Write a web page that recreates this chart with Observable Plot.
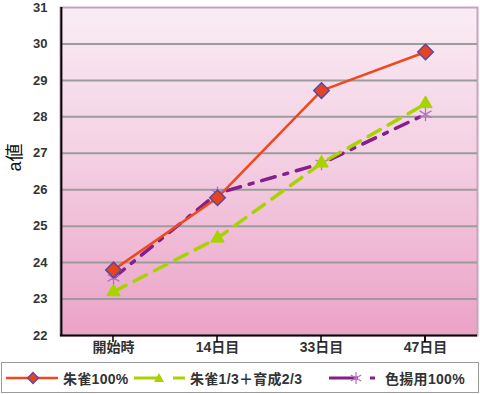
<!DOCTYPE html>
<html><head><meta charset="utf-8">
<script src="https://cdn.jsdelivr.net/npm/d3@7"></script>
<script src="https://cdn.jsdelivr.net/npm/@observablehq/plot@0.6"></script>
<style>
body{margin:0;background:#fff;font-family:"Liberation Sans","Noto Sans CJK JP",Arial,sans-serif;}
#wrap{position:relative;width:480px;height:394px;}
#legend{position:absolute;left:1px;top:362px;width:476px;height:29px;border:1px solid #9a9a9a;background:#fff;}
.item{position:absolute;top:0;height:29px;display:flex;align-items:center;font-size:14px;font-weight:bold;color:#333;white-space:nowrap;letter-spacing:0.3px;}
.item svg{display:block;}
</style></head><body>
<div id="wrap"><div id="chart"></div><div id="legend"></div></div>
<script>
const categories = ["開始時", "14日目", "33日目", "47日目"];
const seriesNames = ["朱雀100%", "朱雀1/3＋育成2/3", "色揚用100%"];
const suzaku100 = [23.8, 25.78, 28.72, 29.78];
const mixSeries = [23.2, 24.67, 26.73, 28.36];
const iroage100 = [23.58, 25.9, 26.72, 28.07];
const yTicks = [22, 23, 24, 25, 26, 27, 28, 29, 30, 31];

const colors = {line1: "#f0481c", fill1: "#e8431f", stroke1: "#5b4a9c",
  line2: "#a9d300", line3: "#861f8c", sym3: "#b76ec0"};

const toRows = (vals, s) => vals.map((v, i) => ({cat: categories[i], value: v, series: s}));
const d1 = toRows(suzaku100, seriesNames[0]);
const d2 = toRows(mixSeries, seriesNames[1]);
const d3r = toRows(iroage100, seriesNames[2]);

const W = 480, H = 360, ML = 60, MR = 3, MT = 7, MB = 25;
const step = (W - ML - MR) / categories.length;
const boundaries = categories.map((c, i) => ({cat: c, dx: -step / 2})).concat([{cat: categories[categories.length - 1], dx: step / 2}]);

const plot = Plot.plot({
  width: W, height: H, marginLeft: ML, marginRight: MR, marginTop: MT, marginBottom: MB,
  style: {fontFamily: '"Liberation Sans","Noto Sans CJK JP",Arial,sans-serif', fontSize: "13px", fontWeight: "bold", color: "#333", background: "transparent", overflow: "visible"},
  x: {type: "point", domain: categories, padding: 0.5, label: null, tickSize: 0, tickPadding: 7},
  y: {domain: [22, 31], ticks: yTicks, label: null, tickSize: 0, tickPadding: 13},
  marks: [
    Plot.frame({fill: "url(#bgGrad)", stroke: "#c8a3bd", strokeWidth: 2}),
    Plot.ruleY(yTicks.filter(t => t > 22 && t < 31), {stroke: "#9c9c9c", strokeWidth: 2}),
    Plot.ruleY([22], {stroke: "#000", strokeWidth: 2}),
    Plot.ruleX([boundaries[0]], {x: "cat", dx: -step / 2, y1: 22, y2: 31, stroke: "#000", strokeWidth: 2}),
    Plot.ruleX(boundaries, {x: "cat", dx: d => d.dx, y1: 22, y2: 22, insetBottom: -7, stroke: "#000", strokeWidth: 1.5}),
    Plot.line(d3r, {x: "cat", y: "value", stroke: colors.line3, strokeWidth: 3.5, strokeDasharray: "14,9,4,9"}),
    Plot.line(d2, {x: "cat", y: "value", stroke: colors.line2, strokeWidth: 3.5, strokeDasharray: "14,9"}),
    Plot.line(d1, {x: "cat", y: "value", stroke: colors.line1, strokeWidth: 2.5}),
    Plot.dot(d3r, {x: "cat", y: "value", symbol: "asterisk", r: 6.5, stroke: colors.sym3, strokeWidth: 1.3}),
    Plot.dot(d2, {x: "cat", y: "value", symbol: "triangle", r: 5, fill: colors.line2, stroke: colors.line2, strokeWidth: 1}),
    Plot.dot(d1, {x: "cat", y: "value", symbol: "diamond2", r: 7, fill: colors.fill1, stroke: colors.stroke1, strokeWidth: 1.5}),
    Plot.text(["a値"], {frameAnchor: "left", dx: -45, rotate: -90, fontSize: 18, fontWeight: "normal", fill: "#111"})
  ]
});

// larger x-axis labels
d3.select(plot).selectAll("[aria-label='x-axis tick label'] text, g[aria-label='x-axis tick label'] text").style("font-size", "14px");

const defs = d3.select(plot).insert("defs", ":first-child");
const g = defs.append("linearGradient").attr("id", "bgGrad").attr("x1", 0).attr("y1", 0).attr("x2", 0).attr("y2", 1);
g.append("stop").attr("offset", "0%").attr("stop-color", "#f9ecf4");
g.append("stop").attr("offset", "45%").attr("stop-color", "#f4d0e3");
g.append("stop").attr("offset", "100%").attr("stop-color", "#eba2c7");
document.getElementById("chart").appendChild(plot);

// Legend
const legend = document.getElementById("legend");
function addItem(left, svgInner, svgW, text) {
  const div = document.createElement("div");
  div.className = "item";
  div.style.left = left + "px";
  div.innerHTML = `<svg width="${svgW}" height="20" viewBox="0 0 ${svgW} 20">${svgInner}</svg><span style="margin-left:3px">${text}</span>`;
  legend.appendChild(div);
}
const diamond = (cx) => `<path d="M${cx},4.5L${cx+5.5},10L${cx},15.5L${cx-5.5},10Z" fill="${colors.fill1}" stroke="${colors.stroke1}" stroke-width="1.3"/>`;
addItem(3,
  `<line x1="1" y1="10" x2="53" y2="10" stroke="${colors.line1}" stroke-width="2.5"/>` + diamond(28), 55, seriesNames[0]);
addItem(131,
  `<line x1="1" y1="10" x2="28" y2="10" stroke="${colors.line2}" stroke-width="3"/>` +
  `<path d="M26,5L31,14L21,14Z" fill="${colors.line2}"/>` +
  `<line x1="40" y1="10" x2="52" y2="10" stroke="${colors.line2}" stroke-width="3"/>`, 54, seriesNames[1]);
addItem(326,
  `<line x1="1" y1="10" x2="30" y2="10" stroke="${colors.line3}" stroke-width="3"/>` +
  `<g stroke="${colors.sym3}" stroke-width="1.2"><line x1="28" y1="4" x2="28" y2="16"/><line x1="22.8" y1="7" x2="33.2" y2="13"/><line x1="22.8" y1="13" x2="33.2" y2="7"/></g>` +
  `<line x1="42" y1="10" x2="47" y2="10" stroke="${colors.line3}" stroke-width="3"/>`, 54, seriesNames[2]);
</script>
</body></html>
